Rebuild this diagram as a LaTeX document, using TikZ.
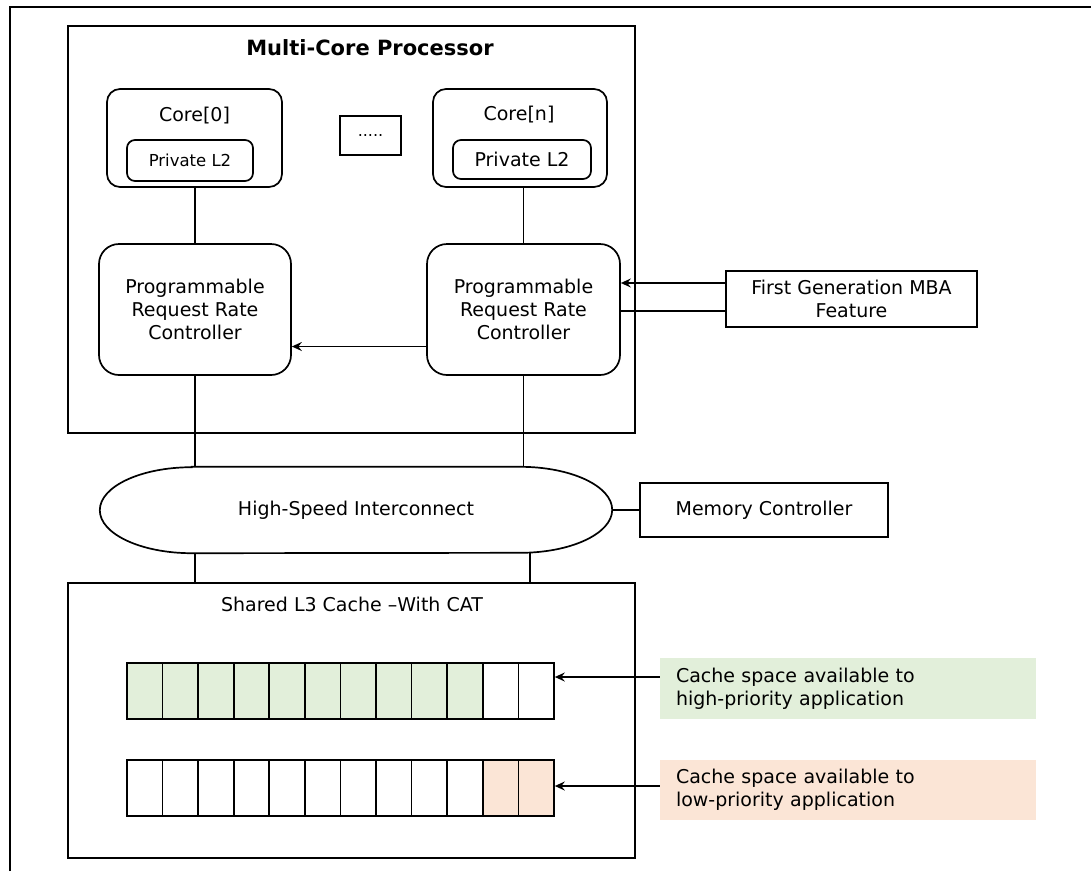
\documentclass[tikz,border=0pt]{standalone}
\usepackage{fontspec}
\setmainfont{DejaVu Sans}
\usetikzlibrary{shapes,arrows.meta, positioning}

\definecolor{hpgreen}{HTML}{E2EFDA}
\definecolor{lporange}{HTML}{FBE5D6}

\tikzset{
  box/.style={draw, line width=1.7pt, inner sep=0pt},
  rbox/.style={box, rounded corners=13pt},
  cell/.style={draw, line width=1.7pt, minimum width=35.58pt, minimum height=56pt, inner sep=0pt},
  note/.style={inner xsep=16pt, inner ysep=0pt, text width=344pt, align=left, minimum width=376pt},
  ln/.style={line width=1.7pt},
  arr/.style={ln, -{Stealth[length=10pt, width=9pt, inset=3.5pt]}}
}

\begin{document}
\begin{tikzpicture}[x=1pt, y=-1pt, font=\fontsize{19}{23}\selectfont]
\useasboundingbox (0,0) rectangle (1091,871);
\draw[line width=2.2pt] (10,871) -- (10,7) -- (1091,7); % outer frame, only top and left edge show

% processor
\node[box, minimum width=567pt, minimum height=407pt] (mcp) at (351.5,229.5) {};
\node[font=\fontsize{21}{25}\selectfont\bfseries] (mcptitle) at (370,48) {Multi-Core Processor};

\node[rbox, minimum width=175pt, minimum height=98pt] (core0) at (194.5,138) {};
\node (core0lbl) at (194.5,116) {Core[0]};
\node[rbox, rounded corners=8pt, minimum width=126pt, minimum height=41pt, font=\fontsize{16.5}{20}\selectfont] (l2a) at (190,160.5) {Private L2};

\node[box, minimum width=61pt, minimum height=39pt, font=\fontsize{16}{18}\selectfont] (dots) at (370.5,135.5) {.....};

\node[rbox, minimum width=174pt, minimum height=98pt] (coren) at (520,138) {};
\node (corenlbl) at (519,115) {Core[n]};
\node[rbox, rounded corners=8pt, minimum width=138pt, minimum height=39pt] (l2b) at (522,159.5) {Private L2};

\node[rbox, rounded corners=20pt, minimum width=192pt, minimum height=131pt, align=center] (prrc0) at (195,309.5) {Programmable\\Request Rate\\Controller};
\node[rbox, rounded corners=20pt, minimum width=193pt, minimum height=131pt, align=center] (prrcn) at (523.5,309.5) {Programmable\\Request Rate\\Controller};

\draw[ln] (core0.south -| prrc0.north) -- (prrc0.north);
\draw[ln] (coren.south -| prrcn.north) -- (prrcn.north);
\coordinate (rrarr) at ([yshift=-37pt]prrcn.west);
\draw[arr] (rrarr) -- (rrarr -| prrc0.east);

% mba feature
\node[box, minimum width=251pt, minimum height=56pt, align=center] (fg) at (851.5,299) {First Generation MBA\\Feature};
\coordinate (fgin) at ([yshift=16pt]fg.west);
\draw[arr] (fgin) -- (fgin -| prrcn.east);
\coordinate (fgout) at ([yshift=-12pt]fg.west);
\draw[ln] (fgout -| prrcn.east) -- (fgout);

% interconnect, the ends are half ellipses
\node[minimum width=512pt, minimum height=86pt, inner sep=0pt] (hsi) at (356,510) {High-Speed Interconnect};
\draw[ln] ([xshift=92pt]hsi.north west) -- ([xshift=-92pt]hsi.north east)
  arc[start angle=90, end angle=-90, x radius=92pt, y radius=43pt]
  -- ([xshift=92pt]hsi.south west)
  arc[start angle=270, end angle=90, x radius=92pt, y radius=43pt] -- cycle;
\draw[ln] (prrc0.south) -- (prrc0.south |- hsi.north);
\draw[ln] (prrcn.south) -- (prrcn.south |- hsi.north);

\node[box, minimum width=248pt, minimum height=54pt] (mc) at (764,510) {Memory Controller};
\draw[ln] (hsi.east) -- (mc.west);

% shared cache
\node[box, minimum width=567pt, minimum height=275pt] (l3) at (351.5,720.5) {};
\node (l3title) at (352,604) {Shared L3 Cache –With CAT};
\draw[ln] (hsi.south -| prrc0.south) -- (l3.north -| prrc0.south);
\coordinate (hsiout) at ([xshift=174pt]hsi.south);
\draw[ln] (hsiout) -- (hsiout |- l3.north);

\foreach \i in {1,...,12} {
  \ifnum\i<11 \def\fa{hpgreen}\def\fb{white}\else \def\fa{white}\def\fb{lporange}\fi
  \node[cell, fill=\fa] (hp\i) at ({127+35.58*(\i-0.5)},691) {};
  \node[cell, fill=\fb] (lp\i) at ({127+35.58*(\i-0.5)},788) {};
}

\node[note, fill=hpgreen, minimum height=61pt] (hpnote) at (848,688.5) {Cache space available to\\high-priority application};
\node[note, fill=lporange, minimum height=60pt] (lpnote) at (848,790) {Cache space available to\\low-priority application};
\coordinate (hparr) at ([yshift=11.5pt]hpnote.west);
\draw[arr] (hparr) -- (hparr -| hp12.east);
\coordinate (lparr) at ([yshift=4pt]lpnote.west);
\draw[arr] (lparr) -- (lparr -| lp12.east);

\end{tikzpicture}
\end{document}
